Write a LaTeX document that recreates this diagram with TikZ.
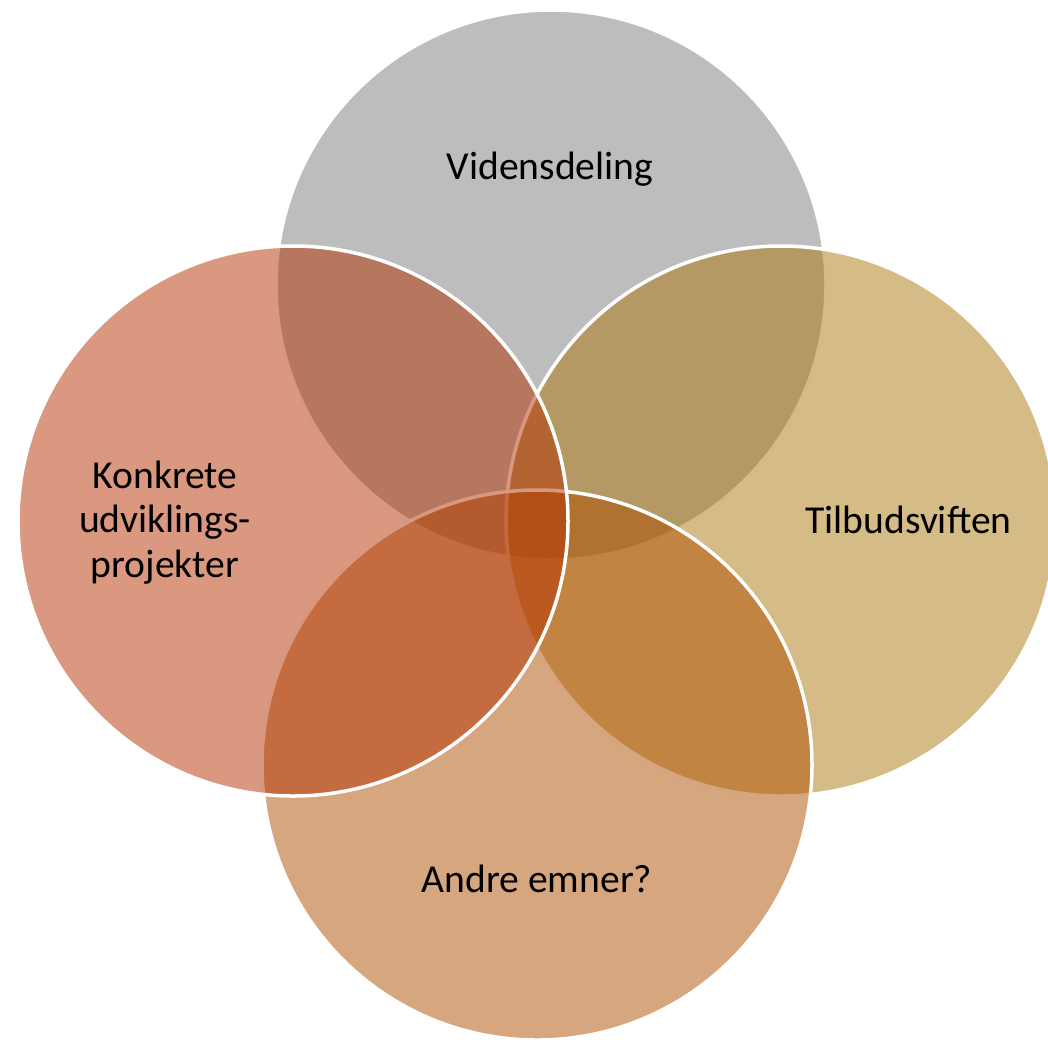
\documentclass[tikz,border=0pt]{standalone}
\usepackage{fontspec}
\setmainfont{Carlito}
\definecolor{ctop}{RGB}{123,123,123}
\definecolor{cright}{RGB}{171,119,13}
\definecolor{cbottom}{RGB}{173,77,0}
\definecolor{cleft}{RGB}{179,49,0}
\begin{document}
\begin{tikzpicture}[x=1pt,y=-1pt,
  venn/.style={circle, draw=white, line width=3.5pt, fill opacity=0.5, draw opacity=1,
    minimum size=550pt, inner sep=0pt, outer sep=0pt},
  lbl/.style={font=\fontsize{39.6}{44.5}\selectfont, text=black, inner sep=0pt, align=center}]
\useasboundingbox (0,0) rectangle (1048,1039);
\clip (0,0) rectangle (1048,1039);
\node[venn, fill=ctop] (ctopc) at (551,285) {};
\node[venn, fill=cright] (crightc) at (781,521) {};
\node[venn, fill=cbottom] (cbottomc) at (537,765) {};
\node[venn, fill=cleft] (cleftc) at (293,521) {};
\node[lbl, anchor=base] (tvid) at (550,179) {Vidensdeling};
\node[lbl, anchor=base] (ttil) at (908.5,533) {Tilbudsviften};
\node[lbl, anchor=base] (tand) at (537,892) {Andre emner?};
\node[lbl, anchor=base] (tkon) at (165,577) {Konkrete\\udviklings-\\projekter};
\end{tikzpicture}
\end{document}
